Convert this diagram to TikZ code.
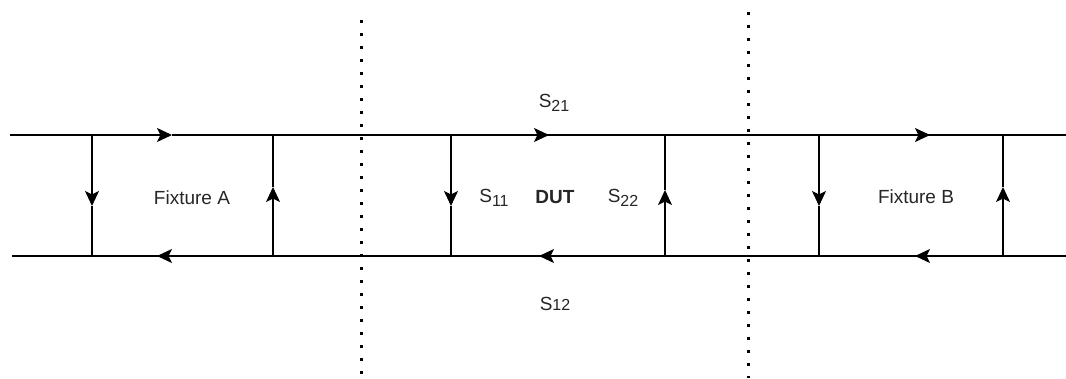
\documentclass[tikz,border=0pt]{standalone}
\usepackage{fontspec}
\setmainfont{Liberation Sans}
\usetikzlibrary{arrows.meta}
\begin{document}
\begin{tikzpicture}[x=1pt,y=-1pt,
  wire/.style={line width=1.3pt, line cap=butt},
  arw/.style={wire, -{Stealth[length=15pt,width=14pt,inset=3.5pt]}},
  dotline/.style={line width=3pt, dash pattern=on 3pt off 10pt},
  lbl/.style={font=\fontsize{19}{20}\selectfont, inner sep=0pt, text=black!85}
]
\useasboundingbox (0,0) rectangle (1066,378);
% top line junctions
\coordinate (t0) at (10,135);
\coordinate (ta1) at (172,135);
\coordinate (t92) at (92,135);
\coordinate (t273) at (273,135);
\coordinate (t451) at (451,135);
\coordinate (ta2) at (549,135);
\coordinate (t665) at (665,135);
\coordinate (t819) at (819,135);
\coordinate (ta3) at (930,135);
\coordinate (t1003) at (1003,135);
\coordinate (tend) at (1066,135);
% bottom line junctions
\coordinate (b0) at (12,256);
\coordinate (b92) at (92,256);
\coordinate (ba1) at (157,256);
\coordinate (b273) at (273,256);
\coordinate (b451) at (451,256);
\coordinate (ba2) at (539,256);
\coordinate (b665) at (665,256);
\coordinate (b819) at (819,256);
\coordinate (ba3) at (915,256);
\coordinate (b1003) at (1003,256);
\coordinate (bend) at (1066,256);
% vertical arrow tips
\coordinate (v1) at (92,206);
\coordinate (v2) at (273,187);
\coordinate (v3) at (451,206);
\coordinate (v4) at (665,190);
\coordinate (v5) at (819,206);
\coordinate (v6) at (1003,187);
% dotted separators
\coordinate (d1t) at (361,20);
\coordinate (d1b) at (361,380);
\coordinate (d2t) at (748,12);
\coordinate (d2b) at (748,378);

% top line
\draw[arw] (t0) -- (ta1);
\draw[wire] (ta1) -- (ta2);
\draw[arw] (t451) -- (ta2);
\draw[wire] (ta2) -- (ta3);
\draw[arw] (t819) -- (ta3);
\draw[wire] (ta3) -- (tend);
% bottom line
\draw[arw] (b1003) -- (ba3);
\draw[wire] (bend) -- (ba3);
\draw[wire] (ba3) -- (ba2);
\draw[arw] (b665) -- (ba2);
\draw[wire] (ba2) -- (ba1);
\draw[arw] (b273) -- (ba1);
\draw[wire] (ba1) -- (b0);
% verticals
\draw[arw] (t92) -- (v1); \draw[wire] (v1) -- (b92);
\draw[arw] (b273) -- (v2); \draw[wire] (v2) -- (t273);
\draw[arw] (t451) -- (v3); \draw[wire] (v3) -- (b451);
\draw[arw] (b665) -- (v4); \draw[wire] (v4) -- (t665);
\draw[arw] (t819) -- (v5); \draw[wire] (v5) -- (b819);
\draw[arw] (b1003) -- (v6); \draw[wire] (v6) -- (t1003);
% dotted
\draw[dotline] (d1t) -- (d1b);
\draw[dotline] (d2t) -- (d2b);
% labels
\node[lbl] (fa) at (192,198) {Fixture A};
\node[lbl] (fb) at (916,197) {Fixture B};
\node[lbl, font=\fontsize{19}{20}\selectfont\bfseries] (dut) at (555,197) {DUT};
\node[lbl] (s21) at (554,103) {S\raisebox{-0.35ex}{\fontsize{16}{16}\selectfont 21}};
\node[lbl] (s11) at (494,198) {S\raisebox{-0.35ex}{\fontsize{16}{16}\selectfont 11}};
\node[lbl] (s22) at (623,198) {S\raisebox{-0.35ex}{\fontsize{16}{16}\selectfont 22}};
\node[lbl] (s12) at (555,304) {S{\fontsize{16}{16}\selectfont 12}};
\end{tikzpicture}
\end{document}
